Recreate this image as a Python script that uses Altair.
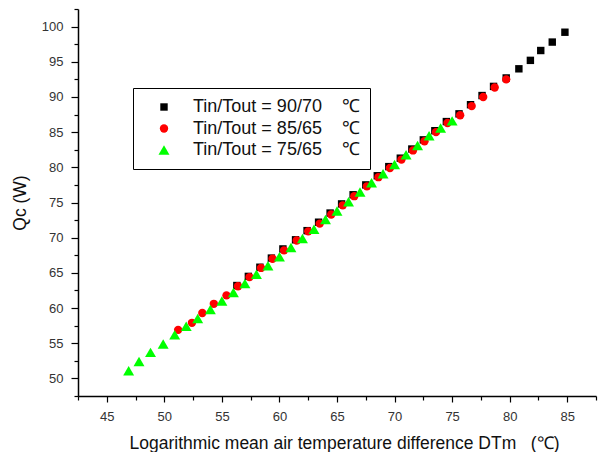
import altair as alt
import pandas as pd

NB = "\u00a0"
# Series labels
s_black = "Tin/Tout = 90/70" + NB * 4 + "℃"
s_red = "Tin/Tout = 85/65" + NB * 4 + "℃"
s_green = "Tin/Tout = 75/65" + NB * 4 + "℃"

# 90/70 (black squares)
x_black = [56.3, 57.3, 58.3, 59.3, 60.3, 61.4, 62.4, 63.4, 64.4, 65.4, 66.4, 67.5, 68.5, 69.5,
           70.5, 71.5, 72.5, 73.5, 74.5, 75.6, 76.6, 77.6, 78.6, 79.7, 80.8, 81.8, 82.7, 83.7, 84.8]
y_black = [63.2, 64.5, 65.8, 67.1, 68.4, 69.7, 71.0, 72.2, 73.5, 74.8, 76.1, 77.5, 78.8, 80.1,
           81.3, 82.6, 83.9, 85.2, 86.5, 87.6, 88.9, 90.2, 91.5, 92.7, 94.0, 95.2, 96.6, 97.8, 99.2]

# 85/65 (red circles)
x_red = [51.2, 52.4, 53.3, 54.3, 55.4, 56.4, 57.4, 58.4, 59.4, 60.4, 61.5, 62.5, 63.5, 64.5, 65.5,
         66.5, 67.6, 68.6, 69.6, 70.6, 71.6, 72.6, 73.6, 74.6, 75.7, 76.7, 77.7, 78.7, 79.7]
y_red = [56.9, 57.9, 59.3, 60.6, 61.8, 63.1, 64.4, 65.7, 67.0, 68.2, 69.6, 70.9, 72.0, 73.3, 74.6,
         75.9, 77.3, 78.6, 79.9, 81.1, 82.4, 83.7, 85.0, 86.3, 87.4, 88.7, 90.0, 91.35, 92.5]

# 75/65 (green triangles)
x_green = [46.9, 47.8, 48.8, 49.9, 50.9, 51.9, 52.9, 54.0, 55.0, 56.0, 57.0, 58.0, 59.0, 60.0, 61.0,
           62.0, 63.0, 64.0, 65.0, 66.0, 67.0, 68.0, 69.0, 70.0, 71.0, 72.0, 73.0, 74.0, 75.0]
y_green = [51.1, 52.4, 53.7, 54.9, 56.2, 57.4, 58.5, 59.8, 61.0, 62.2, 63.5, 64.8, 66.0, 67.3, 68.6,
           69.9, 71.2, 72.6, 73.8, 75.1, 76.5, 77.8, 79.1, 80.4, 81.8, 83.1, 84.5, 85.6, 86.6]

x_ticks = [42.5 + 2.5 * i for i in range(19)]
y_ticks = [47.5 + 2.5 * i for i in range(23)]

rows = []
for name, xs, ys in [(s_black, x_black, y_black), (s_red, x_red, y_red), (s_green, x_green, y_green)]:
    for xv, yv in zip(xs, ys):
        rows.append({"series": name, "DTm": xv, "Qc": yv})
df = pd.DataFrame(rows)

series_order = [s_black, s_red, s_green]

font = "Liberation Sans"
major = "abs(datum.value % 5) < 0.001"

chart = alt.Chart(df).mark_point(filled=True, opacity=1).encode(
    x=alt.X("DTm:Q",
            scale=alt.Scale(domain=[42.5, 87.5], nice=False, zero=False),
            axis=alt.Axis(values=x_ticks,
                          title="Logarithmic mean air temperature difference DTm" + NB * 3 + "(℃)",
                          labelExpr=f"{major} ? datum.label : ''",
                          tickSize={"condition": {"test": major, "value": 6}, "value": 4},
                          grid=False, labelPadding=8, titlePadding=11, titleX=266)),
    y=alt.Y("Qc:Q",
            scale=alt.Scale(domain=[47.5, 102.5], nice=False, zero=False),
            axis=alt.Axis(values=y_ticks, title="Qc (W)",
                          labelExpr=f"{major} ? datum.label : ''",
                          tickSize={"condition": {"test": major, "value": 7}, "value": 4},
                          grid=False, labelPadding=8, titlePadding=12)),
    color=alt.Color("series:N", sort=series_order,
                    scale=alt.Scale(domain=series_order, range=["#000000", "#ff0000", "#00ff00"]),
                    legend=alt.Legend(orient="none", legendX=55, legendY=79, title=None,
                                      strokeColor="#000000", padding=10, rowPadding=3.5,
                                      symbolOffset=12, labelOffset=20, labelLimit=400,
                                      labelFontSize=18, labelFont=font, labelColor="#111111",
                                      fillColor="#ffffff", symbolStrokeWidth=0)),
    shape=alt.Shape("series:N", sort=series_order,
                    scale=alt.Scale(domain=series_order, range=["square", "circle", "triangle-up"])),
    size=alt.Size("series:N", sort=series_order,
                  scale=alt.Scale(type="ordinal", domain=series_order, range=[55, 70, 120])),
).properties(
    width=518, height=387,
    autosize=alt.AutoSizeParams(type="none"),
    padding={"left": 78, "top": 9, "right": 4, "bottom": 56},
).configure_view(stroke=None).configure_axis(
    domainColor="#000000", domainWidth=1.5, tickColor="#000000", tickWidth=1.2,
    labelFont=font, labelFontSize=13, labelColor="#333333",
    titleFont=font, titleFontSize=17.5, titleFontWeight="normal", titleColor="#111111",
)

chart.save("out.html", embed_options={"renderer": "svg", "actions": False})
